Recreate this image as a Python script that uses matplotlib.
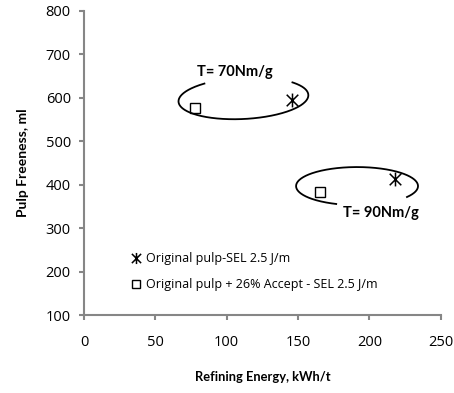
import numpy as np
import matplotlib
matplotlib.use('Agg')
import matplotlib.pyplot as plt
import matplotlib.transforms as mtransforms
from matplotlib.path import Path

plt.rcParams['font.family'] = ['Lato', 'DejaVu Sans']

# data
energy_orig = [146, 218]
freeness_orig = [594, 413]
energy_mix = [78, 165]
freeness_mix = [577, 384]
label_orig = 'Original pulp-SEL 2.5 J/m'
label_mix = 'Original pulp + 26% Accept - SEL 2.5 J/m'
x_ticks = [0, 50, 100, 150, 200, 250]
y_ticks = [100, 200, 300, 400, 500, 600, 700, 800]

grey = '#868686'
body_font = ['Open Sans', 'DejaVu Sans']

# Excel-style star: an X with a vertical bar through it
star = Path([(-1, -1), (1, 1), (-1, 1), (1, -1), (0, -1.2), (0, 1.2)],
            [Path.MOVETO, Path.LINETO, Path.MOVETO, Path.LINETO, Path.MOVETO, Path.LINETO])


def draw_ring(ax, fig, cx, cy, a_pt, b_pt, angle, t1, t2):
    # open ellipse drawn in points around a data-space centre
    t = np.radians(np.linspace(t1, t2, 300))
    th = np.radians(angle)
    x = a_pt * np.cos(t) * np.cos(th) - b_pt * np.sin(t) * np.sin(th)
    y = a_pt * np.cos(t) * np.sin(th) + b_pt * np.sin(t) * np.cos(th)
    trans = (mtransforms.Affine2D().scale(1 / 72.0) + fig.dpi_scale_trans
             + mtransforms.ScaledTranslation(cx, cy, ax.transData))
    ax.plot(x, y, color='black', lw=1.3, transform=trans, clip_on=False)


fig = plt.figure(figsize=(4.54, 3.93), dpi=100)
ax = fig.add_axes([0.185, 0.198, 0.786, 0.775])

ax.plot(energy_orig, freeness_orig, linestyle='none', marker=star,
        markersize=10, markeredgewidth=1.1, color='black', label=label_orig)
ax.plot(energy_mix, freeness_mix, linestyle='none', marker='s',
        markersize=7.5, markerfacecolor='white', markeredgecolor='black',
        markeredgewidth=1.0, label=label_mix)

ax.set_xlim(0, 250)
ax.set_ylim(100, 800)
ax.set_xticks(x_ticks)
ax.set_yticks(y_ticks)

for side in ['top', 'right']:
    ax.spines[side].set_visible(False)
for side in ['left', 'bottom']:
    ax.spines[side].set_color(grey)
    ax.spines[side].set_linewidth(1.5)
ax.tick_params(axis='both', direction='out', length=3.5, width=1.5,
               color=grey, labelsize=10.5, labelcolor='black')
ax.tick_params(axis='x', pad=11)
ax.tick_params(axis='y', pad=6)
for lab in ax.get_xticklabels() + ax.get_yticklabels():
    lab.set_family(body_font)

ax.set_xlabel('Refining Energy, kWh/t', fontsize=9.3, fontweight='bold', labelpad=15)
ax.set_ylabel('Pulp Freeness, ml', fontsize=10, fontweight='bold', labelpad=12)

draw_ring(ax, fig, 111.7, 598.5, 46.8, 14.9, 3, 126, 400)
draw_ring(ax, fig, 191.3, 396.7, 43.9, 13.7, 0, -35, 250)

ax.text(106, 660, 'T= 70Nm/g', fontsize=10.5, fontweight='bold', ha='center', va='center')
ax.text(208, 336, 'T= 90Nm/g', fontsize=10.5, fontweight='bold', ha='center', va='center')

ax.legend(loc='upper left', bbox_to_anchor=(0.112, 0.228), frameon=False,
          prop={'family': body_font, 'size': 9}, handlelength=1.0,
          handletextpad=0.3, labelspacing=1.05, markerscale=0.8, borderpad=0)

fig.savefig('out.png', dpi=100)
